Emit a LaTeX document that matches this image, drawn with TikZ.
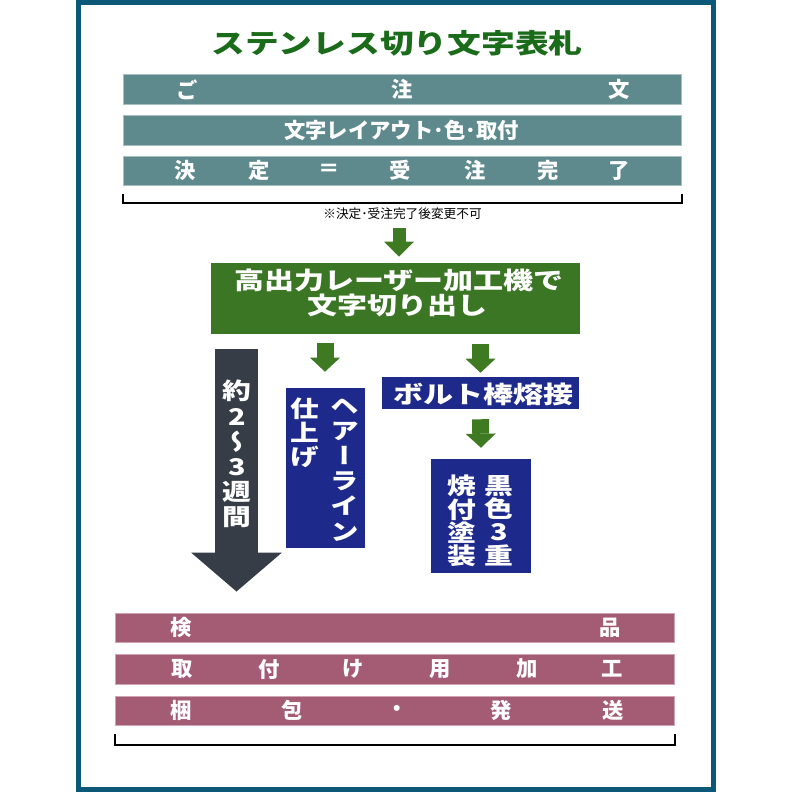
\documentclass[tikz,border=0pt]{standalone}
\usepackage{fontspec}
\setmainfont{Noto Sans CJK JP}
\newfontfamily\jpw[FakeStretch=1.25]{Noto Sans CJK JP}
\newfontfamily\jpv[FakeStretch=1.25,RawFeature=+vert]{Noto Sans CJK JP}
\usetikzlibrary{arrows.meta,calc}
\definecolor{framec}{HTML}{0C5878}
\definecolor{tealbar}{HTML}{5E8A8E}
\definecolor{mauvebar}{HTML}{A45B74}
\definecolor{navybox}{HTML}{1E2A8B}
\definecolor{darkarr}{HTML}{363D46}
\definecolor{greenbox}{HTML}{3B7624}
\definecolor{arrgreen}{HTML}{3E7A22}
\definecolor{titlegreen}{HTML}{1A6B1A}
\begin{document}
\begin{tikzpicture}[x=0.75pt,y=-0.75pt,
  tbar/.style={fill=tealbar, draw=tealbar!55!white, line width=0.75pt, minimum width=418.5pt, minimum height=21.75pt, inner sep=0pt},
  mbar/.style={fill=mauvebar, draw=mauvebar!55!white, line width=0.75pt, minimum width=419.25pt, minimum height=21.75pt, inner sep=0pt},
  ch/.style={text=white, inner sep=0pt, font=\bfseries\fontsize{16pt}{19pt}\selectfont},
  vt/.style={text=white, inner sep=0pt, align=center, anchor=north},
  navy/.style={fill=navybox, inner sep=0pt},
  garr/.style={draw=arrgreen, line width=12.75pt, -{Triangle[width=22.5pt,length=10.5pt,line width=0pt]}},
  garrs/.style={draw=arrgreen, line width=9.75pt, -{Triangle[width=22.5pt,length=11.25pt,line width=0pt]}},
  bigarr/.style={draw=darkarr, line width=32.25pt, -{Triangle[width=68.25pt,length=29.25pt,line width=0pt]}},
  brk/.style={draw=black, line width=1.5pt}
]
\useasboundingbox (0,0) rectangle (792,792);
\fill[white] (0,0) rectangle (792,792);
\draw[framec, line width=3.75pt] (78.5,2.5) rectangle (713.5,789.5);

% title
\node[inner sep=0pt, text=titlegreen, font=\jpw\bfseries\fontsize{20.25pt}{24pt}\selectfont] (title) at (397,43) {ステンレス切り文字表札};

% top bars
\node[tbar] (bar1) at (402,89.5) {};
\node[tbar, minimum height=22.5pt] (bar2) at (402,130) {};
\node[tbar] (bar3) at (402,170.5) {};
\node[ch] (c11) at (187,89.5) {ご};
\node[ch] (c12) at (402,89.5) {注};
\node[ch] (c13) at (619,89.5) {文};
\node[ch] (c21) at (401.5,130) {文字レイアウト･色･取付};
\node[ch] (c31) at (185,170.5) {決};
\node[ch] (c32) at (259,170.5) {定};
\node[ch] (c33) at (329,170.5) {＝};
\node[ch] (c34) at (400,170.5) {受};
\node[ch] (c35) at (475,170.5) {注};
\node[ch] (c36) at (548,170.5) {完};
\node[ch] (c37) at (619,170.5) {了};
\draw[brk] ($(bar3.south west)+(0,8)$) -- ($(bar3.south west)+(0,17)$) -- ($(bar3.south east)+(0,17)$) -- ($(bar3.south east)+(0,8)$);

% note
\node[inner sep=0pt, font=\fontsize{9.5pt}{12pt}\selectfont] (note) at (402.5,213.5) {※決定･受注完了後変更不可};

% green box
\node[fill=greenbox, minimum width=276.75pt, minimum height=53.25pt, inner sep=0pt] (green) at (395.5,298.5) {};
\node[inner sep=0pt, text=white, font=\jpw\bfseries\fontsize{18pt}{22pt}\selectfont] (g1) at (399,280) {高出力レーザー加工機で};
\node[inner sep=0pt, text=white, font=\jpw\bfseries\fontsize{18pt}{22pt}\selectfont] (g2) at (397,305) {文字切り出し};
\draw[garrs] ($(note.center)+(-3.5,14.5)$) -- ($(green.north)+(3.5,-6)$);

% hairline box
\node[navy, minimum width=59.25pt, minimum height=120pt] (hair) at (325.5,468) {};
\node[vt, font=\jpv\bfseries\fontsize{17.25pt}{18.9pt}\selectfont] (h1) at (345,398) {ヘ\\ア\\ー\\ラ\\イ\\ン};
\node[vt, font=\jpv\bfseries\fontsize{17.25pt}{17.8pt}\selectfont] (h2) at (305,398) {仕\\上\\げ};
\draw[garr] ($(green.south)+(-70.5,9)$) -- ($(hair.north)+(-0.5,-16)$);

% bolt box
\node[navy, minimum width=147.75pt, minimum height=24pt] (bolt) at (480.5,393) {};
\node[inner sep=0pt, text=white, font=\jpw\bfseries\fontsize{18pt}{22pt}\selectfont] (bt) at (483.5,394) {ボルト棒熔接};
\draw[garr] ($(green.south)+(85,10)$) -- ($(bolt.north)+(0,-4)$);

% black paint box
\node[navy, minimum width=75pt, minimum height=85.5pt] (black) at (481,516) {};
\node[vt, font=\jpv\bfseries\fontsize{17.25pt}{17.5pt}\selectfont] (k1) at (499,475) {黒\\色\\3\\重};
\node[vt, font=\jpv\bfseries\fontsize{17.25pt}{17.5pt}\selectfont] (k2) at (462,475) {焼\\付\\塗\\装};
\draw[garr] ($(bolt.south)+(0,10)$) -- ($(black.north)+(0,-11)$);

% bottom bars
\node[mbar] (bar4) at (394.5,627.5) {};
\node[mbar, minimum height=22.5pt] (bar5) at (394.5,669) {};
\node[mbar] (bar6) at (394.5,710.5) {};
\node[ch] (d11) at (181,627.5) {検};
\node[ch] (d12) at (610,627.5) {品};
\node[ch] (d21) at (182,669) {取};
\node[ch] (d22) at (269,669) {付};
\node[ch] (d23) at (353,669) {け};
\node[ch] (d24) at (440,669) {用};
\node[ch] (d25) at (527,669) {加};
\node[ch] (d26) at (612,669) {工};
\node[ch] (d31) at (181,710.5) {梱};
\node[ch] (d32) at (292,710.5) {包};
\node[ch] (d33) at (397,710.5) {・};
\node[ch] (d34) at (501,710.5) {発};
\node[ch] (d35) at (613,710.5) {送};
\draw[brk] ($(bar6.south west)+(0,8)$) -- ($(bar6.south west)+(0,19)$) -- ($(bar6.south east)+(0,19)$) -- ($(bar6.south east)+(0,8)$);

% big duration arrow
\draw[bigarr] ($(green.south)+(-159,15)$) -- ($(bar4.north)+(-158,-21)$);
\node[vt, font=\jpv\bfseries\fontsize{17.25pt}{18.9pt}\selectfont] (dur) at (237,380) {約\\2\\〜\\3\\週\\間};
\end{tikzpicture}
\end{document}
